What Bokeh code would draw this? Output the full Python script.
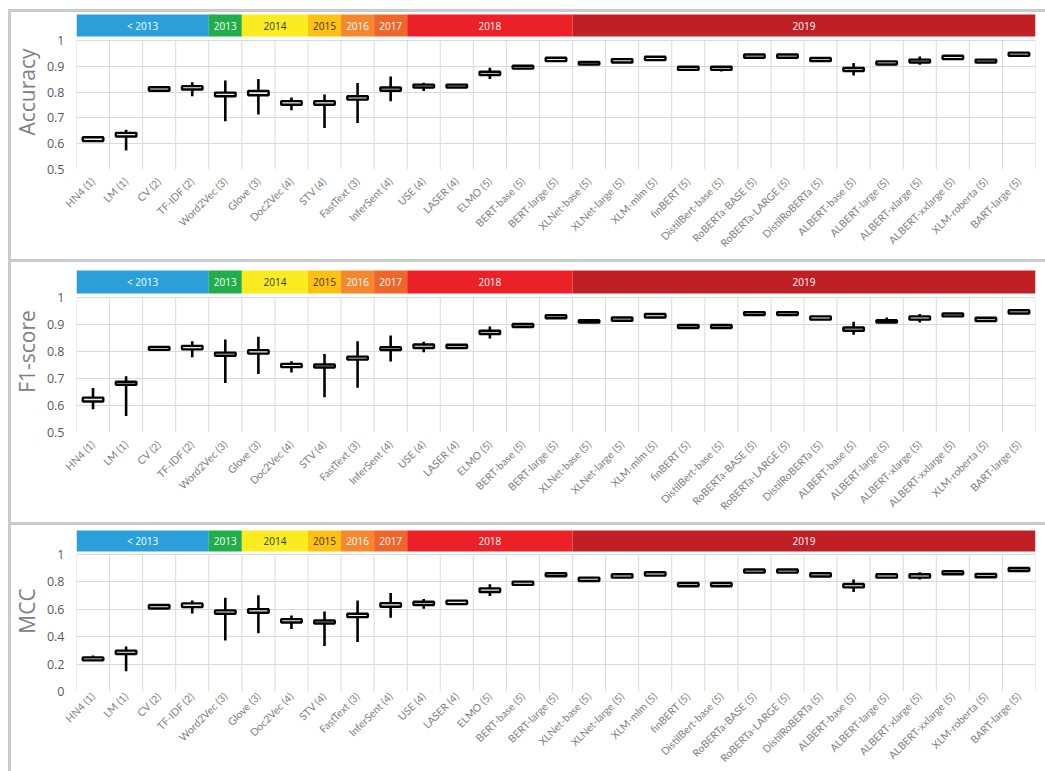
import numpy as np
from math import pi
from bokeh.plotting import figure
from bokeh.layouts import column
from bokeh.models import FixedTicker, Range1d, ColumnDataSource, PrintfTickFormatter
from bokeh.core.properties import value
from bokeh.embed import file_html
from bokeh.resources import INLINE

models = ["HN4 (1)", "LM (1)", "CV (2)", "TF-IDF (2)", "Word2Vec (3)", "Glove (3)", "Doc2Vec (4)",
          "STV (4)", "FastText (3)", "InferSent (4)", "USE (4)", "LASER (4)", "ELMO (5)", "BERT-base (5)",
          "BERT-large (5)", "XLNet-base (5)", "XLNet-large (5)", "XLM-mlm (5)", "finBERT (5)",
          "DistilBert-base (5)", "RoBERTa-BASE (5)", "RoBERTa-LARGE (5)", "DistilRoBERTa (5)",
          "ALBERT-base (5)", "ALBERT-large (5)", "ALBERT-xlarge (5)", "ALBERT-xxlarge (5)",
          "XLM-roberta (5)", "BART-large (5)"]

years = ["< 2013", "2013", "2014", "2015", "2016", "2017", "2018", "2019"]
year_first = [0, 4, 5, 7, 8, 9, 10, 15]
year_last = [3, 4, 6, 7, 8, 9, 14, 28]
year_colors = ["#2a9fd9", "#22ad4b", "#fbec22", "#fdc111", "#f5872f", "#f0662a", "#ec2127", "#c11f26"]
year_text_colors = ["#ffffff", "#ffffff", "#333333", "#333333", "#ffffff", "#ffffff", "#ffffff", "#ffffff"]

acc_min = [0.607, 0.574, 0.805, 0.784, 0.687, 0.713, 0.730, 0.661, 0.680, 0.765, 0.804, 0.818, 0.851, 0.891, 0.920,
           0.907, 0.915, 0.924, 0.886, 0.880, 0.933, 0.933, 0.920, 0.864, 0.907, 0.906, 0.928, 0.915, 0.941]
acc_q1 = [0.610, 0.628, 0.805, 0.810, 0.784, 0.788, 0.751, 0.751, 0.771, 0.805, 0.818, 0.818, 0.866, 0.891, 0.920,
          0.907, 0.915, 0.924, 0.886, 0.886, 0.933, 0.933, 0.920, 0.882, 0.907, 0.915, 0.928, 0.915, 0.941]
acc_q3 = [0.625, 0.642, 0.819, 0.823, 0.798, 0.804, 0.765, 0.765, 0.784, 0.818, 0.829, 0.829, 0.879, 0.902, 0.933,
          0.917, 0.928, 0.937, 0.898, 0.898, 0.946, 0.946, 0.932, 0.894, 0.919, 0.926, 0.941, 0.926, 0.953]
acc_max = [0.627, 0.654, 0.819, 0.838, 0.845, 0.851, 0.779, 0.791, 0.835, 0.860, 0.836, 0.829, 0.894, 0.902, 0.933,
           0.917, 0.928, 0.937, 0.898, 0.898, 0.946, 0.946, 0.932, 0.913, 0.919, 0.938, 0.941, 0.926, 0.953]

f1_min = [0.586, 0.561, 0.806, 0.779, 0.683, 0.717, 0.722, 0.631, 0.666, 0.763, 0.797, 0.813, 0.848, 0.891, 0.923,
          0.907, 0.914, 0.926, 0.887, 0.887, 0.935, 0.935, 0.918, 0.862, 0.907, 0.907, 0.930, 0.913, 0.941]
f1_q1 = [0.615, 0.677, 0.806, 0.808, 0.784, 0.792, 0.742, 0.741, 0.770, 0.805, 0.813, 0.813, 0.865, 0.891, 0.923,
         0.907, 0.914, 0.926, 0.887, 0.887, 0.935, 0.935, 0.918, 0.877, 0.907, 0.918, 0.930, 0.913, 0.941]
f1_q3 = [0.629, 0.688, 0.817, 0.821, 0.796, 0.805, 0.754, 0.752, 0.781, 0.816, 0.826, 0.825, 0.877, 0.902, 0.934,
         0.916, 0.926, 0.939, 0.898, 0.898, 0.946, 0.946, 0.930, 0.889, 0.916, 0.930, 0.941, 0.925, 0.953]
f1_max = [0.665, 0.708, 0.817, 0.838, 0.844, 0.855, 0.764, 0.791, 0.838, 0.859, 0.836, 0.825, 0.893, 0.902, 0.934,
          0.916, 0.926, 0.939, 0.898, 0.898, 0.946, 0.946, 0.930, 0.910, 0.926, 0.939, 0.941, 0.925, 0.953]

mcc_min = [0.222, 0.147, 0.606, 0.570, 0.372, 0.425, 0.457, 0.333, 0.362, 0.538, 0.604, 0.638, 0.697, 0.778, 0.841,
           0.807, 0.831, 0.846, 0.768, 0.768, 0.868, 0.868, 0.839, 0.726, 0.831, 0.817, 0.856, 0.834, 0.880]
mcc_q1 = [0.227, 0.274, 0.606, 0.616, 0.567, 0.575, 0.504, 0.496, 0.543, 0.619, 0.631, 0.638, 0.726, 0.778, 0.841,
          0.807, 0.831, 0.846, 0.768, 0.768, 0.868, 0.868, 0.839, 0.760, 0.831, 0.831, 0.856, 0.834, 0.880]
mcc_q3 = [0.249, 0.298, 0.631, 0.643, 0.592, 0.601, 0.528, 0.518, 0.567, 0.645, 0.655, 0.663, 0.753, 0.802, 0.863,
          0.831, 0.856, 0.870, 0.792, 0.792, 0.890, 0.890, 0.863, 0.785, 0.856, 0.856, 0.878, 0.858, 0.902]
mcc_max = [0.262, 0.328, 0.631, 0.665, 0.685, 0.702, 0.555, 0.584, 0.665, 0.719, 0.675, 0.663, 0.782, 0.802, 0.863,
           0.831, 0.856, 0.870, 0.792, 0.792, 0.890, 0.890, 0.863, 0.817, 0.856, 0.870, 0.878, 0.858, 0.902]

acc_ticks = [0.5, 0.6, 0.7, 0.8, 0.9, 1.0]
f1_ticks = [0.5, 0.6, 0.7, 0.8, 0.9, 1.0]
mcc_ticks = [0.0, 0.2, 0.4, 0.6, 0.8, 1.0]

FONT = "Open Sans"
W = 1037


def make_panel(ylabel, mins, q1, q3, maxs, ticks, height, top_margin, band_top_px, one_px, base_px,
               band_gap_px, xstandoff):
    ymin = ticks[0]
    per_px = (1.0 - ymin) / (base_px - one_px)
    y_end = 1.0 + (one_px - band_top_px) * per_px
    band_bottom = 1.0 + band_gap_px * per_px

    p = figure(width=W, height=height, output_backend="svg", toolbar_location=None,
               x_range=Range1d(-0.5, len(models) - 0.5), y_range=Range1d(ymin, y_end),
               min_border_left=68, min_border_right=10, min_border_top=band_top_px,
               min_border_bottom=height - base_px, margin=(top_margin, 0, 0, 8))
    p.outline_line_color = None
    p.background_fill_color = "white"
    p.border_fill_alpha = 0
    p.styles = {"box-shadow": "inset 3px 3px 0 0 #cbcbcb"}

    # grid
    p.xgrid.grid_line_color = None
    p.ygrid.ticker = FixedTicker(ticks=ticks)
    p.ygrid.grid_line_color = "#dadada"
    p.ygrid.grid_line_width = 1
    bounds = np.arange(len(models) + 1) - 0.5
    p.segment(x0=bounds, y0=[ymin] * len(bounds), x1=bounds, y1=[1.0] * len(bounds),
              line_color="#dadada", line_width=1)

    x = np.arange(len(models))
    src = ColumnDataSource(dict(x=x, lo=mins, q1=q1, q3=q3, hi=maxs))
    p.segment(x0="x", y0="lo", x1="x", y1="hi", source=src, line_color="black", line_width=2.6)
    p.vbar(x="x", width=0.62, bottom="q1", top="q3", source=src, fill_color="#f0f0f0",
           line_color="black", line_width=2.4)

    # year band
    left = [a - 0.5 for a in year_first]
    right = [b + 0.5 for b in year_last]
    band = ColumnDataSource(dict(left=left, right=right, bottom=[band_bottom] * len(years),
                                 top=[y_end + 0.05] * len(years), color=year_colors,
                                 tx=[(a + b) / 2 for a, b in zip(year_first, year_last)],
                                 ty=[(band_bottom + y_end) / 2] * len(years),
                                 label=years, tcolor=year_text_colors))
    p.quad(left="left", right="right", bottom="bottom", top="top", fill_color="color",
           line_color=None, source=band)
    p.text(x="tx", y="ty", text="label", text_color="tcolor", text_align="center",
           text_baseline="middle", text_font=value(FONT), text_font_size="10px", source=band)

    # axes
    p.yaxis.ticker = FixedTicker(ticks=ticks)
    p.yaxis.formatter = PrintfTickFormatter(format="%g")
    p.yaxis.axis_line_color = None
    p.yaxis.major_tick_line_color = None
    p.yaxis.minor_tick_line_color = None
    p.yaxis.major_tick_out = 0
    p.yaxis.major_tick_in = 0
    p.yaxis.major_label_text_color = "#595959"
    p.yaxis.major_label_text_font = FONT
    p.yaxis.major_label_text_font_size = "12.5px"
    p.yaxis.major_label_standoff = 12
    p.yaxis.axis_label = ylabel
    p.yaxis.axis_label_text_font = FONT
    p.yaxis.axis_label_text_font_size = "21px"
    p.yaxis.axis_label_text_font_style = "normal"
    p.yaxis.axis_label_text_color = "#808080"
    p.yaxis.axis_label_standoff = 3

    p.xaxis.ticker = FixedTicker(ticks=list(range(len(models))))
    p.xaxis.major_label_overrides = {i: m for i, m in enumerate(models)}
    p.xaxis.major_label_orientation = pi / 4
    p.xaxis.axis_line_color = None
    p.xaxis.major_tick_line_color = None
    p.xaxis.minor_tick_line_color = None
    p.xaxis.major_tick_out = 0
    p.xaxis.major_tick_in = 0
    p.xaxis.major_label_text_color = "#808080"
    p.xaxis.major_label_text_font = "Lato"
    p.xaxis.major_label_text_font_size = "10.5px"
    p.xaxis.major_label_standoff = xstandoff
    return p


p1 = make_panel("Accuracy", acc_min, acc_q1, acc_q3, acc_max, acc_ticks, 250, 9, 5, 31, 160, 4, 10)
p2 = make_panel("F1-score", f1_min, f1_q1, f1_q3, f1_max, f1_ticks, 263, 0, 11, 38, 173, 4, 10)
p3 = make_panel("MCC", mcc_min, mcc_q1, mcc_q3, mcc_max, mcc_ticks, 249, 0, 8, 32, 169, 3, 3)

layout = column(p1, p2, p3, spacing=0)
open("out.html", "w").write(file_html(layout, INLINE))
